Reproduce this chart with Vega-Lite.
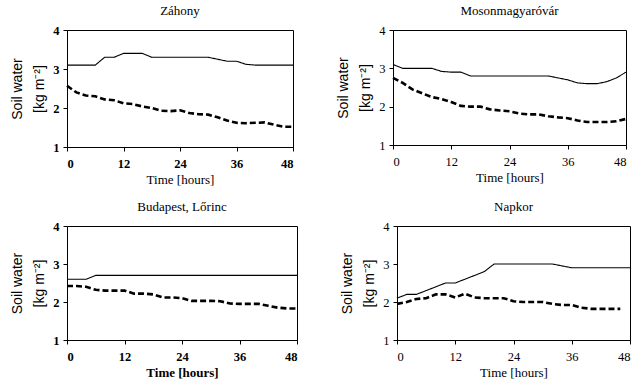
{
  "$schema": "https://vega.github.io/schema/vega-lite/v6.json",
  "background": "white",
  "padding": {"left": 10, "top": 4, "right": 0, "bottom": 0},
  "datasets": {
    "zahony": [
      {"hour": 0, "s": 3.1, "d": 2.57}, {"hour": 2, "s": 3.1, "d": 2.4}, {"hour": 4, "s": 3.1, "d": 2.32},
      {"hour": 6, "s": 3.1, "d": 2.3}, {"hour": 8, "s": 3.3, "d": 2.22}, {"hour": 10, "s": 3.3, "d": 2.2},
      {"hour": 12, "s": 3.4, "d": 2.12}, {"hour": 14, "s": 3.4, "d": 2.1}, {"hour": 16, "s": 3.4, "d": 2.04},
      {"hour": 18, "s": 3.3, "d": 2.0}, {"hour": 20, "s": 3.3, "d": 1.93}, {"hour": 22, "s": 3.3, "d": 1.92},
      {"hour": 24, "s": 3.3, "d": 1.94}, {"hour": 26, "s": 3.3, "d": 1.87}, {"hour": 28, "s": 3.3, "d": 1.84},
      {"hour": 30, "s": 3.3, "d": 1.83}, {"hour": 32, "s": 3.25, "d": 1.76}, {"hour": 34, "s": 3.2, "d": 1.68},
      {"hour": 36, "s": 3.2, "d": 1.62}, {"hour": 38, "s": 3.12, "d": 1.61}, {"hour": 40, "s": 3.1, "d": 1.62},
      {"hour": 42, "s": 3.1, "d": 1.63}, {"hour": 44, "s": 3.1, "d": 1.57}, {"hour": 46, "s": 3.1, "d": 1.52},
      {"hour": 48, "s": 3.1, "d": 1.52}
    ],
    "moson": [
      {"hour": 0, "s": 3.1, "d": 2.75}, {"hour": 2, "s": 3.0, "d": 2.62}, {"hour": 4, "s": 3.0, "d": 2.45},
      {"hour": 6, "s": 3.0, "d": 2.35}, {"hour": 8, "s": 3.0, "d": 2.25}, {"hour": 10, "s": 2.92, "d": 2.2},
      {"hour": 12, "s": 2.9, "d": 2.12}, {"hour": 14, "s": 2.9, "d": 2.02}, {"hour": 16, "s": 2.8, "d": 2.0},
      {"hour": 18, "s": 2.8, "d": 2.0}, {"hour": 20, "s": 2.8, "d": 1.93}, {"hour": 22, "s": 2.8, "d": 1.9},
      {"hour": 24, "s": 2.8, "d": 1.88}, {"hour": 26, "s": 2.8, "d": 1.82}, {"hour": 28, "s": 2.8, "d": 1.8},
      {"hour": 30, "s": 2.8, "d": 1.8}, {"hour": 32, "s": 2.8, "d": 1.75}, {"hour": 34, "s": 2.75, "d": 1.72},
      {"hour": 36, "s": 2.7, "d": 1.7}, {"hour": 38, "s": 2.62, "d": 1.64}, {"hour": 40, "s": 2.6, "d": 1.6},
      {"hour": 42, "s": 2.6, "d": 1.6}, {"hour": 44, "s": 2.65, "d": 1.6}, {"hour": 46, "s": 2.75, "d": 1.62},
      {"hour": 48, "s": 2.9, "d": 1.68}
    ],
    "budapest": [
      {"hour": 0, "s": 2.6, "d": 2.42}, {"hour": 2, "s": 2.6, "d": 2.42}, {"hour": 4, "s": 2.6, "d": 2.4},
      {"hour": 6, "s": 2.7, "d": 2.32}, {"hour": 8, "s": 2.7, "d": 2.3}, {"hour": 10, "s": 2.7, "d": 2.3},
      {"hour": 12, "s": 2.7, "d": 2.3}, {"hour": 14, "s": 2.7, "d": 2.22}, {"hour": 16, "s": 2.7, "d": 2.22},
      {"hour": 18, "s": 2.7, "d": 2.2}, {"hour": 20, "s": 2.7, "d": 2.12}, {"hour": 22, "s": 2.7, "d": 2.12},
      {"hour": 24, "s": 2.7, "d": 2.1}, {"hour": 26, "s": 2.7, "d": 2.03}, {"hour": 28, "s": 2.7, "d": 2.03},
      {"hour": 30, "s": 2.7, "d": 2.03}, {"hour": 32, "s": 2.7, "d": 2.02}, {"hour": 34, "s": 2.7, "d": 1.96},
      {"hour": 36, "s": 2.7, "d": 1.95}, {"hour": 38, "s": 2.7, "d": 1.95}, {"hour": 40, "s": 2.7, "d": 1.95},
      {"hour": 42, "s": 2.7, "d": 1.9}, {"hour": 44, "s": 2.7, "d": 1.85}, {"hour": 46, "s": 2.7, "d": 1.83},
      {"hour": 48, "s": 2.7, "d": 1.83}
    ],
    "napkor": [
      {"hour": 0, "s": 2.1, "d": 1.95}, {"hour": 2, "s": 2.2, "d": 2.0}, {"hour": 4, "s": 2.2, "d": 2.08},
      {"hour": 6, "s": 2.3, "d": 2.1}, {"hour": 8, "s": 2.4, "d": 2.2}, {"hour": 10, "s": 2.5, "d": 2.2},
      {"hour": 12, "s": 2.5, "d": 2.12}, {"hour": 14, "s": 2.6, "d": 2.22}, {"hour": 16, "s": 2.7, "d": 2.12},
      {"hour": 18, "s": 2.8, "d": 2.1}, {"hour": 20, "s": 3.0, "d": 2.1}, {"hour": 22, "s": 3.0, "d": 2.1},
      {"hour": 24, "s": 3.0, "d": 2.02}, {"hour": 26, "s": 3.0, "d": 2.0}, {"hour": 28, "s": 3.0, "d": 2.0},
      {"hour": 30, "s": 3.0, "d": 2.0}, {"hour": 32, "s": 3.0, "d": 1.95}, {"hour": 34, "s": 2.95, "d": 1.92},
      {"hour": 36, "s": 2.9, "d": 1.92}, {"hour": 38, "s": 2.9, "d": 1.85}, {"hour": 40, "s": 2.9, "d": 1.82},
      {"hour": 42, "s": 2.9, "d": 1.82}, {"hour": 44, "s": 2.9, "d": 1.82}, {"hour": 46, "s": 2.9, "d": 1.82},
      {"hour": 48, "s": 2.9, "d": null}
    ]
  },
  "vconcat": [
    {
      "hconcat": [
        {
          "width": 226, "height": 117,
          "title": "Záhony",
          "data": {"name": "zahony"},
          "transform": [{"fold": ["s", "d"], "as": ["k", "v"]}],
          "mark": {"type": "line", "color": "black"},
          "encoding": {
            "x": {"field": "hour", "type": "quantitative", "scale": {"domain": [0, 48]},
                  "axis": {"values": [0, 12, 24, 36, 48], "title": "Time [hours]", "labelFontWeight": "bold"}},
            "y": {"field": "v", "type": "quantitative", "scale": {"domain": [1, 4]},
                  "axis": {"values": [1, 2, 3, 4], "title": ["Soil water", "[kg m⁻²]"], "labelFontWeight": "bold"}},
            "strokeDash": {"field": "k", "type": "nominal", "scale": {"domain": ["s", "d"], "range": [[1, 0], [6, 3]]}, "legend": null},
            "strokeWidth": {"field": "k", "type": "nominal", "scale": {"domain": ["s", "d"], "range": [1.1, 2.6]}, "legend": null}
          }
        },
        {
          "width": 233, "height": 115,
          "title": "Mosonmagyaróvár",
          "data": {"name": "moson"},
          "transform": [{"fold": ["s", "d"], "as": ["k", "v"]}],
          "mark": {"type": "line", "color": "black"},
          "encoding": {
            "x": {"field": "hour", "type": "quantitative", "scale": {"domain": [0, 48]},
                  "axis": {"values": [0, 12, 24, 36, 48], "title": "Time [hours]"}},
            "y": {"field": "v", "type": "quantitative", "scale": {"domain": [1, 4]},
                  "axis": {"values": [1, 2, 3, 4], "title": ["Soil water", "[kg m⁻²]"]}},
            "strokeDash": {"field": "k", "type": "nominal", "scale": {"domain": ["s", "d"], "range": [[1, 0], [6, 3]]}, "legend": null},
            "strokeWidth": {"field": "k", "type": "nominal", "scale": {"domain": ["s", "d"], "range": [1.1, 2.6]}, "legend": null}
          }
        }
      ]
    },
    {
      "hconcat": [
        {
          "width": 230, "height": 114,
          "title": "Budapest, Lőrinc",
          "data": {"name": "budapest"},
          "transform": [{"fold": ["s", "d"], "as": ["k", "v"]}],
          "mark": {"type": "line", "color": "black"},
          "encoding": {
            "x": {"field": "hour", "type": "quantitative", "scale": {"domain": [0, 48]},
                  "axis": {"values": [0, 12, 24, 36, 48], "title": "Time [hours]", "labelFontWeight": "bold", "titleFontWeight": "bold"}},
            "y": {"field": "v", "type": "quantitative", "scale": {"domain": [1, 4]},
                  "axis": {"values": [1, 2, 3, 4], "title": ["Soil water", "[kg m⁻²]"], "labelFontWeight": "bold"}},
            "strokeDash": {"field": "k", "type": "nominal", "scale": {"domain": ["s", "d"], "range": [[1, 0], [6, 3]]}, "legend": null},
            "strokeWidth": {"field": "k", "type": "nominal", "scale": {"domain": ["s", "d"], "range": [1.1, 2.6]}, "legend": null}
          }
        },
        {
          "width": 233, "height": 114,
          "title": "Napkor",
          "data": {"name": "napkor"},
          "transform": [{"fold": ["s", "d"], "as": ["k", "v"]}],
          "mark": {"type": "line", "color": "black"},
          "encoding": {
            "x": {"field": "hour", "type": "quantitative", "scale": {"domain": [0, 48]},
                  "axis": {"values": [0, 12, 24, 36, 48], "title": "Time [hours]"}},
            "y": {"field": "v", "type": "quantitative", "scale": {"domain": [1, 4]},
                  "axis": {"values": [1, 2, 3, 4], "title": ["Soil water", "[kg m⁻²]"]}},
            "strokeDash": {"field": "k", "type": "nominal", "scale": {"domain": ["s", "d"], "range": [[1, 0], [6, 3]]}, "legend": null},
            "strokeWidth": {"field": "k", "type": "nominal", "scale": {"domain": ["s", "d"], "range": [1.1, 2.6]}, "legend": null}
          }
        }
      ]
    }
  ],
  "spacing": 13,
  "config": {
    "font": "Liberation Serif",
    "concat": {"spacing": 37},
    "view": {"stroke": "black", "strokeWidth": 1},
    "axis": {
      "grid": false, "domainColor": "black", "tickColor": "black", "labelColor": "black", "titleColor": "black",
      "labelFont": "Liberation Serif", "titleFont": "Liberation Serif", "labelFontSize": 12.5, "titleFontSize": 13,
      "titleFontWeight": "normal", "tickSize": 4
    },
    "axisX": {"labelAngle": 0, "titlePadding": 4, "labelPadding": 6},
    "axisY": {"titleFont": "Liberation Sans", "titleFontSize": 14, "titleLineHeight": 22, "titlePadding": 6, "labelPadding": 4},
    "title": {"font": "Liberation Serif", "fontSize": 13, "fontWeight": "normal", "color": "black", "offset": 6}
  }
}
